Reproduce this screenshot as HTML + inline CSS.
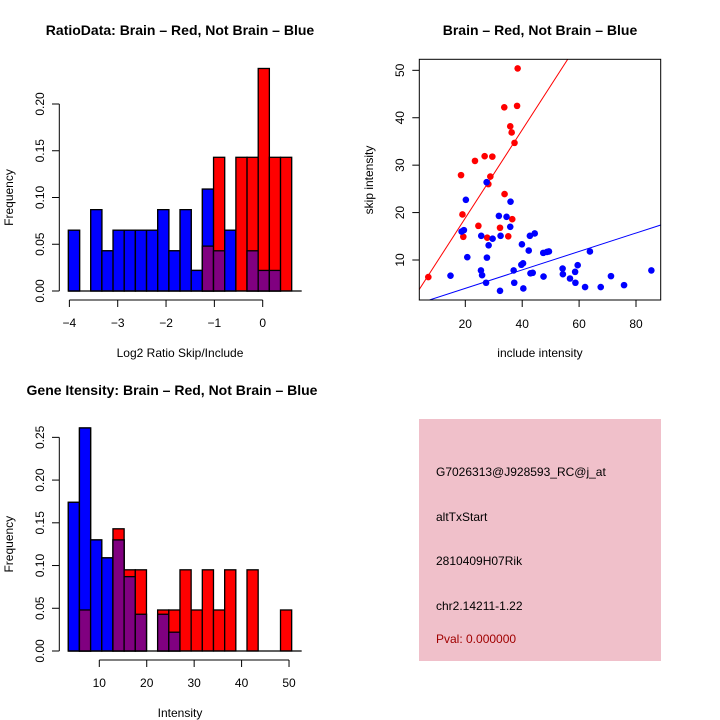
<!DOCTYPE html>
<html><head><meta charset="utf-8"><style>
html,body{margin:0;padding:0;background:#fff;}
svg{display:block;font-family:"Liberation Sans",sans-serif;}
</style></head><body>
<svg id="chart" width="720" height="720" viewBox="0 0 720 720" xmlns="http://www.w3.org/2000/svg">
<g id="p1"></g>
<g id="p2"></g>
<g id="p3"></g>
<g id="p4">
<rect x="419" y="419" width="242" height="242" fill="#f0c0ca"/>
<text x="436" y="476" font-size="12">G7026313@J928593_RC@j_at</text>
<text x="436" y="521" font-size="12">altTxStart</text>
<text x="436" y="565" font-size="12">2810409H07Rik</text>
<text x="436" y="610" font-size="12">chr2.14211-1.22</text>
<text x="436" y="643" font-size="12" fill="#a00000">Pval: 0.000000</text>
</g>
</svg>
<script>
// ---- Ratio histogram data ----
const ratioBinStart = -4.02;
const ratioBinWidth = 0.231;
const ratioBlue = [0.065,0,0.087,0.043,0.065,0.065,0.065,0.065,0.087,0.043,0.087,0.022,0.109,0.043,0.065,0,0.043,0.022,0.022,0];
const ratioRed  = [0,0,0,0,0,0,0,0,0,0,0,0,0.048,0.143,0,0.143,0.143,0.238,0.143,0.143];
const ratioYTicks = [0,0.05,0.10,0.15,0.20];
const ratioYTickLabels = ["0.00","0.05","0.10","0.15","0.20"];
const ratioXTicks = [-4,-3,-2,-1,0];
const ratioXTickLabels = ["\u22124","\u22123","\u22122","\u22121","0"];

// ---- Gene intensity histogram data ----
const geneBinStart = 3.46;
const geneBinWidth = 2.355;
const geneBlue = [0.174,0.261,0.130,0.109,0.130,0.087,0.043,0,0.043,0.022,0,0,0,0,0,0,0,0,0,0];
const geneRed  = [0,0.048,0,0,0.143,0.095,0.095,0,0.048,0.048,0.095,0.048,0.095,0.048,0.095,0,0.095,0,0,0.048];
const geneYTicks = [0,0.05,0.10,0.15,0.20,0.25];
const geneYTickLabels = ["0.00","0.05","0.10","0.15","0.20","0.25"];
const geneXTicks = [10,20,30,40,50];
const geneXTickLabels = ["10","20","30","40","50"];

// ---- Scatter data ----
const redInclude = [7.0,18.5,19.0,19.3,23.4,24.6,26.8,27.7,28.1,28.8,29.5,32.2,33.7,33.8,35.1,35.8,36.3,36.5,37.3,38.2,38.4];
const redSkip    = [6.4,27.9,19.6,14.9,30.9,17.2,31.9,14.7,26.0,27.6,31.8,16.8,42.2,23.9,15.0,38.2,36.9,18.6,34.7,42.5,50.4];
const blueInclude = [14.8,18.7,19.5,20.2,20.7,25.5,25.9,25.6,27.3,27.5,27.6,28.2,29.6,31.8,32.2,32.4,34.5,35.8,35.9,37.0,37.2,39.9,39.7,40.3,40.4,42.3,42.7,42.9,43.7,44.4,47.5,47.4,48.7,49.4,54.2,54.3,56.8,58.6,58.7,59.5,62.1,63.8,67.6,71.2,75.8,85.4];
const blueSkip    = [6.7,16.0,16.3,22.7,10.6,7.8,6.8,15.1,5.2,26.4,10.5,13.1,14.5,19.3,3.5,15.1,19.1,17.0,22.3,7.8,5.2,13.3,9.0,9.3,4.0,12.0,15.1,7.2,7.3,15.6,6.5,11.5,11.7,11.8,8.2,7.0,6.1,7.5,5.2,8.9,4.3,11.8,4.3,6.6,4.7,7.8];
const redFit = [0.25, 0.93];   // intercept, slope
const blueFit = [0.13, 0.1945];
const scatterXTicks = [20,40,60,80];
const scatterXTickLabels = ["20","40","60","80"];
const scatterYTicks = [10,20,30,40,50];
const scatterYTickLabels = ["10","20","30","40","50"];

const NS = "http://www.w3.org/2000/svg";
function mk(parent, tag, attrs){
  const e = document.createElementNS(NS, tag);
  for (const k in attrs) e.setAttribute(k, attrs[k]);
  parent.appendChild(e);
  return e;
}
function txt(parent, x, y, s, size, extra){
  const t = mk(parent, "text", Object.assign({x:x, y:y, "font-size":size, "text-anchor":"middle"}, extra||{}));
  t.textContent = s;
  return t;
}

function histogram(g, opts){
  const xs = v => opts.x0px + (v - opts.x0) * opts.xk;
  const ys = v => opts.y0px - v * opts.yk;
  const tt = txt(g, opts.titleX, opts.titleY, opts.title, 14, {"font-weight":"bold"});
  
  
  for (let i = 0; i < opts.blue.length; i++){
    const l = xs(opts.binStart + i*opts.binW), r = xs(opts.binStart + (i+1)*opts.binW);
    const b = opts.blue[i], rd = opts.red[i];
    const draw = (v, fill, name) => {
      if (v <= 0) return;
      const el = mk(g, "rect", {x:l, y:ys(v), width:r-l, height:ys(0)-ys(v), fill:fill, stroke:"#000", "stroke-width":1.3});
      
      
    };
    draw(b, "#0000ff", "bar-not-brain-" + i);
    draw(rd, "#ff0000", "bar-brain-" + i);
    if (b > rd) draw(b, "#0000ff", "bar-not-brain-top-" + i);
    draw(Math.min(b, rd), "#800080", "bar-overlap-" + i);
  }
  mk(g, "line", {x1:xs(opts.binStart), x2:xs(opts.binStart + opts.blue.length*opts.binW)+10, y1:ys(0), y2:ys(0), stroke:"#000", "stroke-width":1.3});
  const ya = mk(g, "g", {});
  
  
  const yt = opts.yTicks;
  mk(ya, "line", {x1:59.3, x2:59.3, y1:ys(yt[0]), y2:ys(yt[yt.length-1]), stroke:"#000", "stroke-width":1});
  yt.forEach((v, i) => {
    mk(ya, "line", {x1:52, x2:59.3, y1:ys(v), y2:ys(v), stroke:"#000", "stroke-width":1});
    txt(ya, 0, 0, opts.yLabels[i], 12, {transform:`translate(44,${ys(v)}) rotate(-90)`});
  });
  const yl = txt(g, 0, 0, "Frequency", 12, {transform:`translate(13,${(ys(yt[0])+ys(yt[yt.length-1]))/2}) rotate(-90)`});
  
  
  const xa = mk(g, "g", {});
  
  
  const xt = opts.xTicks;
  mk(xa, "line", {x1:xs(xt[0]), x2:xs(xt[xt.length-1]), y1:opts.xAxisY, y2:opts.xAxisY, stroke:"#000", "stroke-width":1});
  xt.forEach((v, i) => {
    mk(xa, "line", {x1:xs(v), x2:xs(v), y1:opts.xAxisY, y2:opts.xAxisY+7, stroke:"#000", "stroke-width":1});
    txt(xa, xs(v), opts.xAxisY+27, opts.xLabels[i], 12);
  });
  const xl = txt(g, opts.xTitleX, opts.xTitleY, opts.xTitle, 12);
  
  
}

histogram(document.getElementById("p1"), {
  title:"RatioData: Brain \u2013 Red, Not Brain \u2013 Blue", titleX:180, titleY:35,
  x0:0, x0px:262.7, xk:48.33, y0px:291, yk:935,
  binStart:ratioBinStart, binW:ratioBinWidth, blue:ratioBlue, red:ratioRed,
  yTicks:ratioYTicks, yLabels:ratioYTickLabels, xTicks:ratioXTicks, xLabels:ratioXTickLabels,
  xAxisY:300, xTitle:"Log2 Ratio Skip/Include", xTitleX:180, xTitleY:357
});
histogram(document.getElementById("p3"), {
  title:"Gene Itensity: Brain \u2013 Red, Not Brain \u2013 Blue", titleX:172, titleY:395,
  x0:10, x0px:99.3, xk:4.743, y0px:651, yk:854.6,
  binStart:geneBinStart, binW:geneBinWidth, blue:geneBlue, red:geneRed,
  yTicks:geneYTicks, yLabels:geneYTickLabels, xTicks:geneXTicks, xLabels:geneXTickLabels,
  xAxisY:660, xTitle:"Intensity", xTitleX:180, xTitleY:717
});

(function(){
  const g = document.getElementById("p2");
  const L = 419.3, R = 660.7, T = 59.3, B = 300;
  const xs = v => 465.3 + (v - 20) * 2.845;
  const ys = v => 260 - (v - 10) * 4.742;
  const ti = txt(g, 540, 35, "Brain \u2013 Red, Not Brain \u2013 Blue", 14, {"font-weight":"bold"});
  
  
  const clip = mk(g, "clipPath", {id:"scClip"});
  mk(clip, "rect", {x:L, y:T, width:R-L, height:B-T});
  const lines = mk(g, "g", {"clip-path":"url(#scClip)"});
  const fitLine = (f, col, name) => {
    const xa = 0, xb = 100;
    const el = mk(lines, "line", {x1:xs(xa), y1:ys(f[0]+f[1]*xa), x2:xs(xb), y2:ys(f[0]+f[1]*xb), stroke:col, "stroke-width":1});
    
    
  };
  fitLine(redFit, "#ff0000", "brain-fit-line");
  fitLine(blueFit, "#0000ff", "not-brain-fit-line");
  redInclude.forEach((v, i) => {
    const c = mk(g, "circle", {cx:xs(v), cy:ys(redSkip[i]), r:3.3, fill:"#ff0000"});
    
    
  });
  blueInclude.forEach((v, i) => {
    const c = mk(g, "circle", {cx:xs(v), cy:ys(blueSkip[i]), r:3.3, fill:"#0000ff"});
    
    
  });
  const box = mk(g, "rect", {x:L, y:T, width:R-L, height:B-T, fill:"none", stroke:"#000", "stroke-width":1});
  
  
  const xa = mk(g, "g", {});
  
  
  scatterXTicks.forEach((v, i) => {
    mk(xa, "line", {x1:xs(v), x2:xs(v), y1:B, y2:B+7, stroke:"#000"});
    txt(xa, xs(v), 328, scatterXTickLabels[i], 12);
  });
  const ya = mk(g, "g", {});
  
  
  scatterYTicks.forEach((v, i) => {
    mk(ya, "line", {x1:L-7, x2:L, y1:ys(v), y2:ys(v), stroke:"#000"});
    txt(ya, 0, 0, scatterYTickLabels[i], 12, {transform:`translate(404,${ys(v)}) rotate(-90)`});
  });
  const xl = txt(g, 540, 357, "include intensity", 12);
  
  
  const yl = txt(g, 0, 0, "skip intensity", 12, {transform:`translate(373,180) rotate(-90)`});
  
  
})();
</script>
</body></html>
